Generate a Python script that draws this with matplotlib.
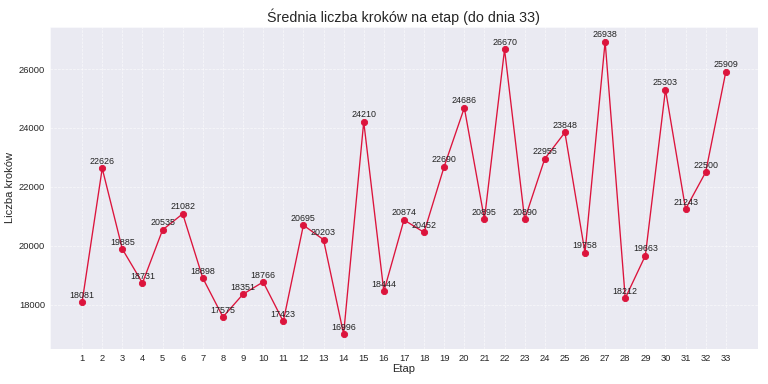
import matplotlib
matplotlib.use('Agg')
import matplotlib.pyplot as plt
import seaborn as sns

etapy = list(range(1, 34))
kroki = [18081, 22626, 19885, 18731, 20535, 21082, 18898, 17575, 18351, 18766,
         17423, 20695, 20203, 16996, 24210, 18444, 20874, 20452, 22690, 24686,
         20895, 26670, 20890, 22955, 23848, 19758, 26938, 18212, 19663, 25303,
         21243, 22500, 25909]

sns.set_style('darkgrid')
plt.rcParams['font.family'] = ['Liberation Sans', 'DejaVu Sans']

fig = plt.figure(figsize=(12, 6), dpi=64)
plt.plot(etapy, kroki, marker='o', color='crimson', linewidth=1.5, markersize=7)

for x, y in zip(etapy, kroki):
    plt.annotate(str(y), (x, y), textcoords='offset points', xytext=(0, 5),
                 ha='center', fontsize=10, color='#222222')

plt.title('Średnia liczba kroków na etap (do dnia 33)', fontsize=16)
plt.xlabel('Etap', fontsize=12.5, labelpad=2)
plt.ylabel('Liczba kroków', fontsize=12.5, labelpad=4)
plt.xticks(etapy)
plt.tick_params(labelsize=10.5, pad=2)
plt.grid(True, linestyle='--', alpha=0.7)
plt.subplots_adjust(left=0.065, right=0.987, top=0.93, bottom=0.092)
plt.savefig('out.png', dpi=64)
